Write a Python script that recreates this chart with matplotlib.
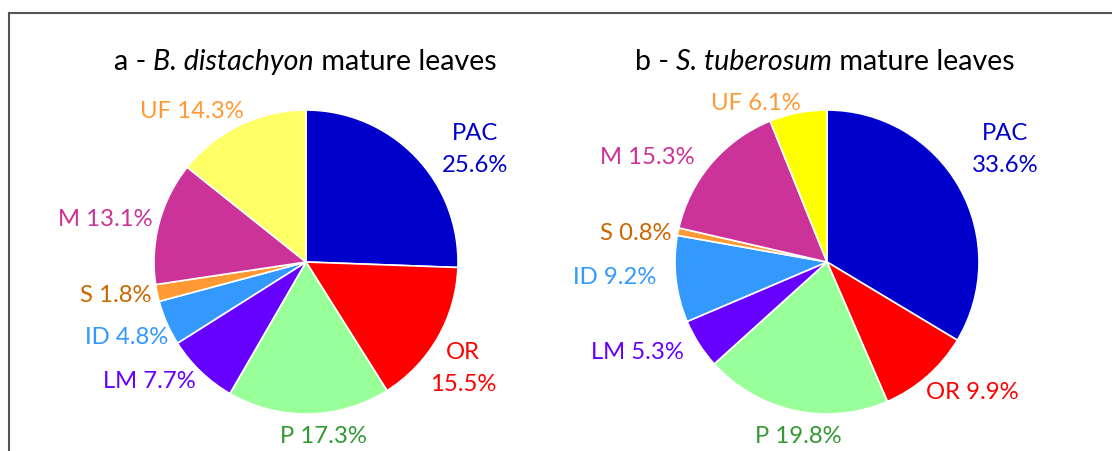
import matplotlib
matplotlib.use("Agg")
import matplotlib.pyplot as plt
from matplotlib.lines import Line2D

plt.rcParams['font.family'] = ['Lato', 'DejaVu Sans']

# ---- data ----
categories = ["PAC", "OR", "P", "LM", "ID", "S", "M", "UF"]
values_a = [25.6, 15.5, 17.3, 7.7, 4.8, 1.8, 13.1, 14.3]
values_b = [33.6, 9.9, 19.8, 5.3, 9.2, 0.8, 15.3, 6.1]
title_a = [("a - ", "normal"), ("B. distachyon", "italic"), (" mature leaves", "normal")]
title_b = [("b - ", "normal"), ("S. tuberosum", "italic"), (" mature leaves", "normal")]

# ---- styles ----
wedge_colors_a = ["#0000CC", "#FF0000", "#99FF99", "#6600FF", "#3399FF", "#FF9933", "#CC3399", "#FFFF66"]
wedge_colors_b = ["#0000CC", "#FF0000", "#99FF99", "#6600FF", "#3399FF", "#FF9933", "#CC3399", "#FFFF00"]
label_colors = ["#0000CC", "#FF0000", "#339933", "#6600FF", "#3399FF", "#CC6600", "#CC3399", "#FF9933"]

W, H = 1112, 452
fig = plt.figure(figsize=(W / 100, H / 100), dpi=100)
ax = fig.add_axes([0, 0, 1, 1])
ax.set_xlim(0, W)
ax.set_ylim(0, H)

# layout (pixel coordinates, y measured from top); two-line labels have two y values
pies = [
    dict(values=values_a, colors=wedge_colors_a, center=(306, 263), radius=152,
         title=title_a, title_pos=(305, 62),
         label_pos=[(475, (134, 166)), (463, (353, 385)), (323, 437), (149, 382),
                    (127, 338), (116, 296), (105, 220), (192, 111)]),
    dict(values=values_b, colors=wedge_colors_b, center=(827, 263), radius=152,
         title=title_b, title_pos=(825, 62),
         label_pos=[(1005, (134, 166)), (972, 393), (798, 437), (637, 353),
                    (615, 277), (636, 234), (647, 158), (756, 103)]),
]

fs = 17.2
tfs = 20.6
fig.canvas.draw()
renderer = fig.canvas.get_renderer()


def text_width(s, style):
    t = ax.text(0, 0, s + "|", fontsize=tfs, style=style)
    bar = ax.text(0, 0, "|", fontsize=tfs, style=style)
    w = t.get_window_extent(renderer).width - bar.get_window_extent(renderer).width
    t.remove()
    bar.remove()
    return w


for p in pies:
    cx, cy = p["center"]
    ax.pie(p["values"], colors=p["colors"], startangle=90, counterclock=False,
           center=(cx, H - cy), radius=p["radius"],
           wedgeprops=dict(edgecolor="white", linewidth=1.2))
    for cat, val, col, (lx, ly) in zip(categories, p["values"], label_colors, p["label_pos"]):
        if isinstance(ly, tuple):
            ax.text(lx, H - ly[0], cat, color=col, fontsize=fs, ha="center", va="center")
            ax.text(lx, H - ly[1], f"{val:.1f}%", color=col, fontsize=fs, ha="center", va="center")
        else:
            ax.text(lx, H - ly, f"{cat} {val:.1f}%", color=col, fontsize=fs, ha="center", va="center")
    # title with mixed styles, centred at title_pos
    widths = [text_width(s, st) for s, st in p["title"]]
    tx, ty = p["title_pos"]
    x = tx - sum(widths) / 2
    for (s, st), w in zip(p["title"], widths):
        ax.text(x, H - ty, s, fontsize=tfs, style=st, color="black", ha="left", va="center")
        x += w

# frame (top and left lines)
ax.add_line(Line2D([8.5, W], [H - 14, H - 14], color="#555555", linewidth=1.5))
ax.add_line(Line2D([8.5, 8.5], [H - 14, 0], color="#555555", linewidth=1.5))

ax.set_xlim(0, W)
ax.set_ylim(0, H)
ax.set_aspect("equal")
ax.axis("off")

fig.savefig("out.png", dpi=100)
